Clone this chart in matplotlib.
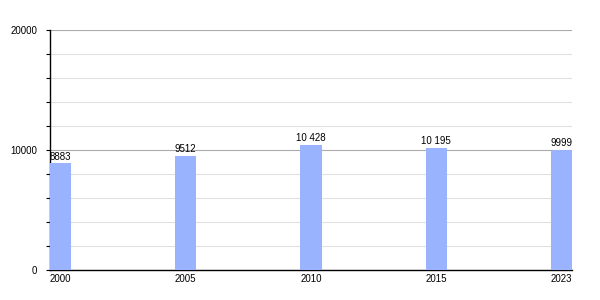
import numpy as np
import matplotlib.pyplot as plt
from matplotlib.ticker import MultipleLocator

years = ["2000", "2005", "2010", "2015", "2023"]
population = [8883, 9512, 10428, 10195, 9999]
value_labels = ["8883", "9512", "10 428", "10 195", "9999"]

plt.rcParams["font.family"] = ["Liberation Sans", "DejaVu Sans"]

fig = plt.figure(figsize=(6, 3), dpi=100)
ax = fig.add_axes([50 / 600, 30 / 300, 522 / 600, 240 / 300])

x = np.arange(len(years))
width = 0.168
bars = ax.bar(x, population, width=width, align="edge", color="#99b3ff", zorder=3)

for rect, lab in zip(bars, value_labels):
    ax.text(rect.get_x() + rect.get_width() / 2, rect.get_height() + 150, lab,
            ha="center", va="bottom", fontsize=7, zorder=4)

ax.set_xlim(0, len(years) - 1 + width)
ax.set_ylim(0, 20000)
ax.set_xticks(x + width / 2)
ax.set_xticklabels(years, fontsize=7)
ax.tick_params(axis="x", length=0, pad=3)

ax.yaxis.set_major_locator(MultipleLocator(10000))
ax.yaxis.set_minor_locator(MultipleLocator(2000))
ax.tick_params(axis="y", which="major", labelsize=7, length=3, width=0.8, pad=6)
ax.tick_params(axis="y", which="minor", length=3, width=0.8)

ax.grid(axis="y", which="major", color="#aaaaaa", linewidth=0.8, zorder=0)
ax.grid(axis="y", which="minor", color="#e0e0e0", linewidth=0.8, zorder=0)

ax.spines["top"].set_visible(False)
ax.spines["right"].set_visible(False)
ax.spines["left"].set_linewidth(1)
ax.spines["bottom"].set_linewidth(1)

fig.savefig("out.png", dpi=100)
